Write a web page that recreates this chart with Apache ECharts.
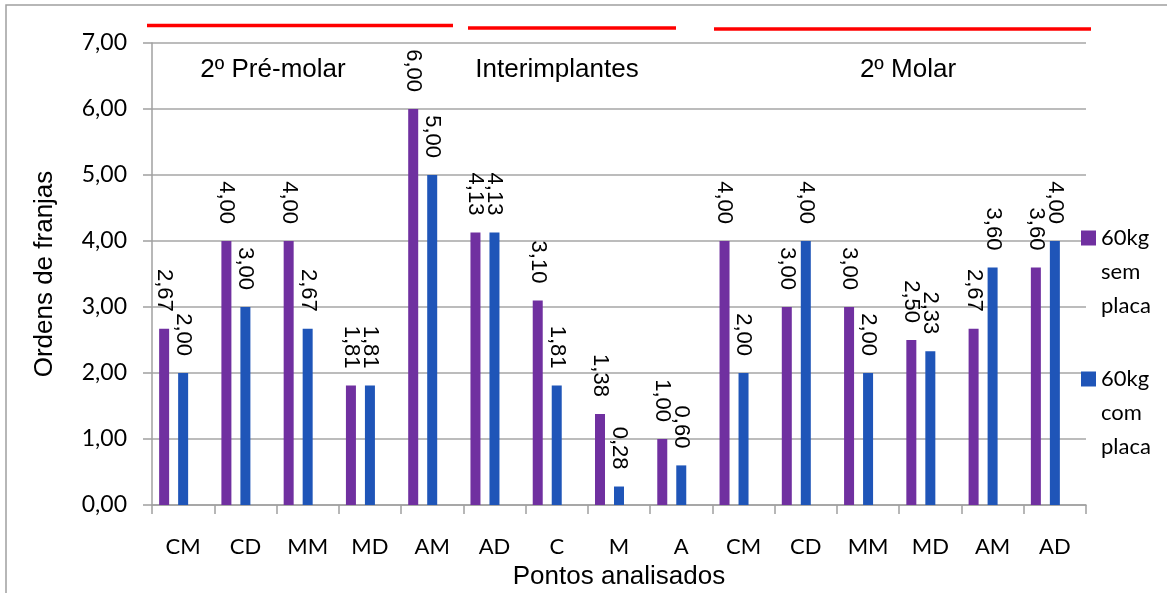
<!DOCTYPE html>
<html>
<head>
<meta charset="utf-8">
<script src="https://cdn.jsdelivr.net/npm/echarts@6/dist/echarts.min.js"></script>
<style>
  html, body { margin: 0; padding: 0; background: #ffffff; }
  #chart { width: 1167px; height: 593px; }
</style>
</head>
<body>
<div id="chart"></div>
<script>
// Measurement points along the arch
const categories = ['CM', 'CD', 'MM', 'MD', 'AM', 'AD', 'C', 'M', 'A', 'CM', 'CD', 'MM', 'MD', 'AM', 'AD'];
// Fringe orders, 60 kg load
const semPlaca = [2.67, 4.00, 4.00, 1.81, 6.00, 4.13, 3.10, 1.38, 1.00, 4.00, 3.00, 3.00, 2.50, 2.67, 3.60];
const comPlaca = [2.00, 3.00, 2.67, 1.81, 5.00, 4.13, 1.81, 0.28, 0.60, 2.00, 4.00, 2.00, 2.33, 3.60, 4.00];
const seriesNames = ['60kg sem placa', '60kg com placa'];
const groupLabels = ['2º Pré-molar', 'Interimplantes', '2º Molar'];
const yMin = 0, yMax = 7, yStep = 1;

const fmt = v => Number(v).toFixed(2).replace('.', ',');
const ARIAL = '"Liberation Sans", Arial, sans-serif';
const CALIBRI = 'Lato, "Open Sans", sans-serif';

const chart = echarts.init(document.getElementById('chart'));

const valueLabel = {
  show: true,
  position: 'top',
  distance: 17,
  rotate: -90,
  align: 'right',
  verticalAlign: 'middle',
  fontFamily: ARIAL,
  fontSize: 22,
  color: '#000',
  formatter: p => fmt(p.value)
};

// one word per line; two blank lines in front put the first word level with the swatch
const legendCommon = {
  orient: 'vertical',
  left: 1081,
  padding: 0,
  itemWidth: 15,
  itemHeight: 15,
  itemGap: 0,
  icon: 'rect',
  selectedMode: false,
  formatter: n => '\n\n' + n.split(' ').join('\n'),
  textStyle: { fontFamily: CALIBRI, fontSize: 22, color: '#000', lineHeight: 34 }
};

chart.setOption({
  animation: false,
  backgroundColor: '#ffffff',
  color: ['#7030A0', '#1F55B8'],
  grid: { left: 152, right: 81, top: 43, bottom: 88, containLabel: false, outerBoundsMode: 'none' },
  legend: [
    Object.assign({ top: 238 - 85, data: [seriesNames[0]] }, legendCommon),
    Object.assign({ top: 379 - 85, data: [seriesNames[1]] }, legendCommon)
  ],
  xAxis: {
    type: 'category',
    data: categories,
    axisLine: { lineStyle: { color: '#a0a0a0', width: 1.5 } },
    axisTick: { show: true, length: 9, alignWithLabel: false, lineStyle: { color: '#a0a0a0', width: 1.5 } },
    axisLabel: { margin: 31, fontFamily: CALIBRI, fontSize: 22, color: '#000', interval: 0 },
    name: 'Pontos analisados',
    nameLocation: 'middle',
    nameGap: 59,
    nameTextStyle: { fontFamily: ARIAL, fontSize: 26, color: '#000' }
  },
  yAxis: {
    type: 'value',
    min: yMin,
    max: yMax,
    interval: yStep,
    axisLine: { show: true, lineStyle: { color: '#a0a0a0', width: 1.5 } },
    axisTick: { show: true, length: 9, lineStyle: { color: '#a0a0a0', width: 1.5 } },
    axisLabel: { margin: 25, fontFamily: CALIBRI, fontSize: 23, color: '#000', formatter: v => fmt(v) },
    splitLine: { lineStyle: { color: '#a6a6a6', width: 1.5 } },
    name: 'Ordens de franjas',
    nameLocation: 'middle',
    nameRotate: 90,
    nameGap: 94,
    nameTextStyle: { fontFamily: ARIAL, fontSize: 26, color: '#000' }
  },
  series: [
    {
      name: seriesNames[0],
      type: 'bar',
      data: semPlaca,
      barWidth: 10,
      barGap: '90%',
      label: valueLabel
    },
    {
      name: seriesNames[1],
      type: 'bar',
      data: comPlaca,
      barWidth: 10,
      barGap: '90%',
      label: valueLabel
    },
    {
      // empty third slot: keeps the pair to the left of each category centre
      name: 'vazio',
      type: 'bar',
      data: [],
      barWidth: 10,
      barGap: '90%'
    }
  ],
  graphic: [
    // outer frame
    { type: 'rect', silent: true, shape: { x: 6, y: 5, width: 1200, height: 700 },
      style: { fill: 'none', stroke: '#a0a0a0', lineWidth: 1.5 } },
    // group brackets
    { type: 'line', silent: true, shape: { x1: 147, y1: 25.5, x2: 453, y2: 25.5 },
      style: { stroke: '#ff0000', lineWidth: 3.5 } },
    { type: 'line', silent: true, shape: { x1: 468, y1: 28, x2: 676, y2: 28 },
      style: { stroke: '#ff0000', lineWidth: 3.5 } },
    { type: 'line', silent: true, shape: { x1: 714, y1: 29, x2: 1091, y2: 29 },
      style: { stroke: '#ff0000', lineWidth: 3.5 } },
    // group names
    { type: 'text', silent: true, x: 273, y: 70,
      style: { text: groupLabels[0], font: '26px ' + ARIAL, fill: '#000', align: 'center', verticalAlign: 'middle' } },
    { type: 'text', silent: true, x: 557, y: 70,
      style: { text: groupLabels[1], font: '26px ' + ARIAL, fill: '#000', align: 'center', verticalAlign: 'middle' } },
    { type: 'text', silent: true, x: 908, y: 70,
      style: { text: groupLabels[2], font: '26px ' + ARIAL, fill: '#000', align: 'center', verticalAlign: 'middle' } }
  ]
});
</script>
</body>
</html>
